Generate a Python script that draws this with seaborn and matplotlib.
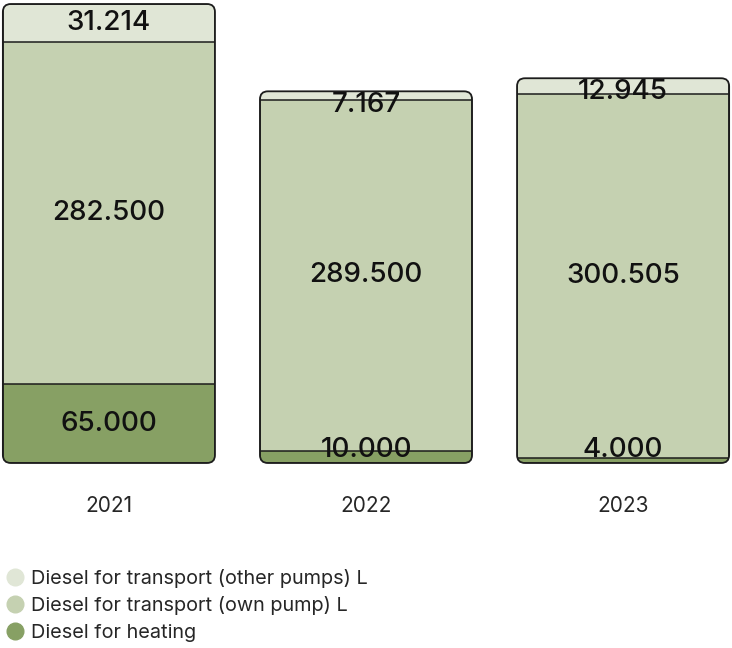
import pandas as pd
import numpy as np
import matplotlib
matplotlib.use("Agg")
import matplotlib.pyplot as plt
import seaborn as sns
from matplotlib.patches import FancyBboxPatch
from matplotlib.lines import Line2D

# data
years = ["2021", "2022", "2023"]
series = ["Diesel for heating",
          "Diesel for transport (own pump) L",
          "Diesel for transport (other pumps) L"]
heating = [65000, 10000, 4000]
own_pump = [282500, 289500, 300505]
other_pumps = [31214, 7167, 12945]
colors = ["#87a064", "#c5d1b1", "#e0e6d6"]
labels_fmt = lambda v: f"{v:,}".replace(",", ".")

sns.set_style("white")
plt.rcParams["font.family"] = ["Inter", "DejaVu Sans"]

df = pd.DataFrame({"year": years, "heating": heating,
                   "own": own_pump, "other": other_pumps})
df["c1"] = df["heating"]
df["c2"] = df["c1"] + df["own"]
df["c3"] = df["c2"] + df["other"]

fig = plt.figure(figsize=(7.32, 6.48), dpi=100)
ax = fig.add_axes([3/732, 1 - 463/648, 726/732, 459/648])

edge = "#1c1c1c"
width = 0.825
for col, c in zip(["c3", "c2", "c1"], colors[::-1]):
    sns.barplot(data=df, x="year", y=col, color=c, width=width,
                edgecolor=edge, linewidth=1.1, saturation=1, ax=ax)

ax.set_xlim(-0.412, 2.412)
ax.set_ylim(0, df["c3"].max())
ax.set_xlabel("")
ax.set_ylabel("")
ax.set_yticks([])
sns.despine(ax=ax, left=True, bottom=True)
ax.tick_params(axis="x", length=0, pad=24, labelsize=15)

# rounded outline for each bar, bars clipped to it
px_x = (ax.get_xlim()[1] - ax.get_xlim()[0]) / 726
px_y = (ax.get_ylim()[1] - ax.get_ylim()[0]) / 459
r = 8 * px_x
for i, tot in enumerate(df["c3"]):
    box = FancyBboxPatch((i - width / 2, 0), width, tot,
                         boxstyle=f"round,pad=0,rounding_size={r}",
                         mutation_aspect=px_y / px_x,
                         facecolor="none", edgecolor=edge, linewidth=1.3,
                         transform=ax.transData, clip_on=False, zorder=5)
    ax.add_patch(box)
    for p in ax.patches:
        if isinstance(p, FancyBboxPatch):
            continue
        if abs(p.get_x() + p.get_width() / 2 - i) < 0.01:
            p.set_clip_path(box)

# value labels, kept inside the bar when a segment is thin
lab = dict(ha="center", va="center", fontsize=20, fontweight="medium",
           color="#111111", zorder=6)
for i in range(len(years)):
    h, o, t = heating[i], own_pump[i], other_pumps[i]
    tot = h + o + t
    ax.text(i, max(h / 2, 13 * px_y), labels_fmt(h), **lab)
    ax.text(i, h + o / 2, labels_fmt(o), **lab)
    ax.text(i, min(h + o + t / 2, tot - 14 * px_y), labels_fmt(t), **lab)

handles = [Line2D([0], [0], marker="o", linestyle="", markersize=12,
                  markerfacecolor=c, markeredgecolor=c) for c in colors[::-1]]
fig.legend(handles, series[::-1], loc="upper left",
           bbox_to_anchor=(-0.007, 1 - 561/648), frameon=False,
           fontsize=14.3, handletextpad=0.2, labelspacing=0.42,
           handlelength=1.2, borderaxespad=0)

fig.savefig("out.png", dpi=100)
